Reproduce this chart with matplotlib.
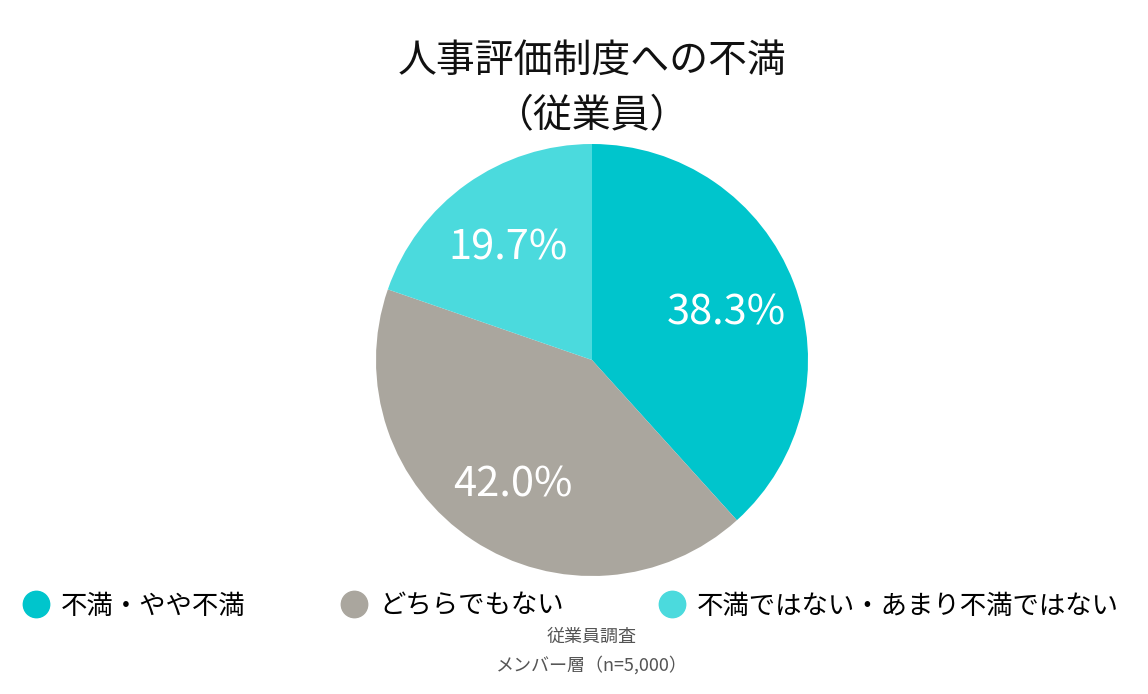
import matplotlib
matplotlib.use("Agg")
import matplotlib.pyplot as plt
from matplotlib.lines import Line2D

plt.rcParams['font.family'] = ['Noto Sans CJK JP', 'DejaVu Sans']

labels = ['不満・やや不満', 'どちらでもない', '不満ではない・あまり不満ではない']
values = [38.3, 42.0, 19.7]
colors = ['#00C5CC', '#AAA69E', '#4BDADD']
title = '人事評価制度への不満\n（従業員）'
notes = ['従業員調査', 'メンバー層（n=5,000）']

W, H = 1148, 694
fig = plt.figure(figsize=(W / 100, H / 100), dpi=100)

# pie axes placed in pixels: centre (592, 360) from top, radius 216
r = 216
cx, cy = 592, H - 360
ax = fig.add_axes([(cx - r) / W, (cy - r) / H, 2 * r / W, 2 * r / H])
wedges, texts, autotexts = ax.pie(values, colors=colors, startangle=90, counterclock=False,
                                  autopct='%.1f%%', pctdistance=0.667,
                                  textprops=dict(color='white', fontsize=30))
# the CJK font sits a bit high, nudge labels down a few pixels
for t in autotexts:
    x, y = t.get_position()
    t.set_position((x, y - 5 / r))
ax.set_xlim(-1, 1)
ax.set_ylim(-1, 1)
ax.set_aspect('equal')

fig.text(cx / W, 1 - 89 / H, title, ha='center', va='center', fontsize=28,
         linespacing=1.5, color='#111111')

handles = [Line2D([], [], marker='o', linestyle='', markersize=19, color=c) for c in colors]
fig.legend(handles, labels, loc='center', bbox_to_anchor=(571 / W, 1 - 606 / H), ncol=3,
           frameon=False, fontsize=19, columnspacing=3.6, handletextpad=0.45, handlelength=1.0)

fig.text(cx / W, 1 - 637 / H, notes[0], ha='center', va='center', fontsize=13, color='#555555')
fig.text(cx / W, 1 - 665 / H, notes[1], ha='center', va='center', fontsize=13, color='#555555')

fig.savefig('out.png', dpi=100)
